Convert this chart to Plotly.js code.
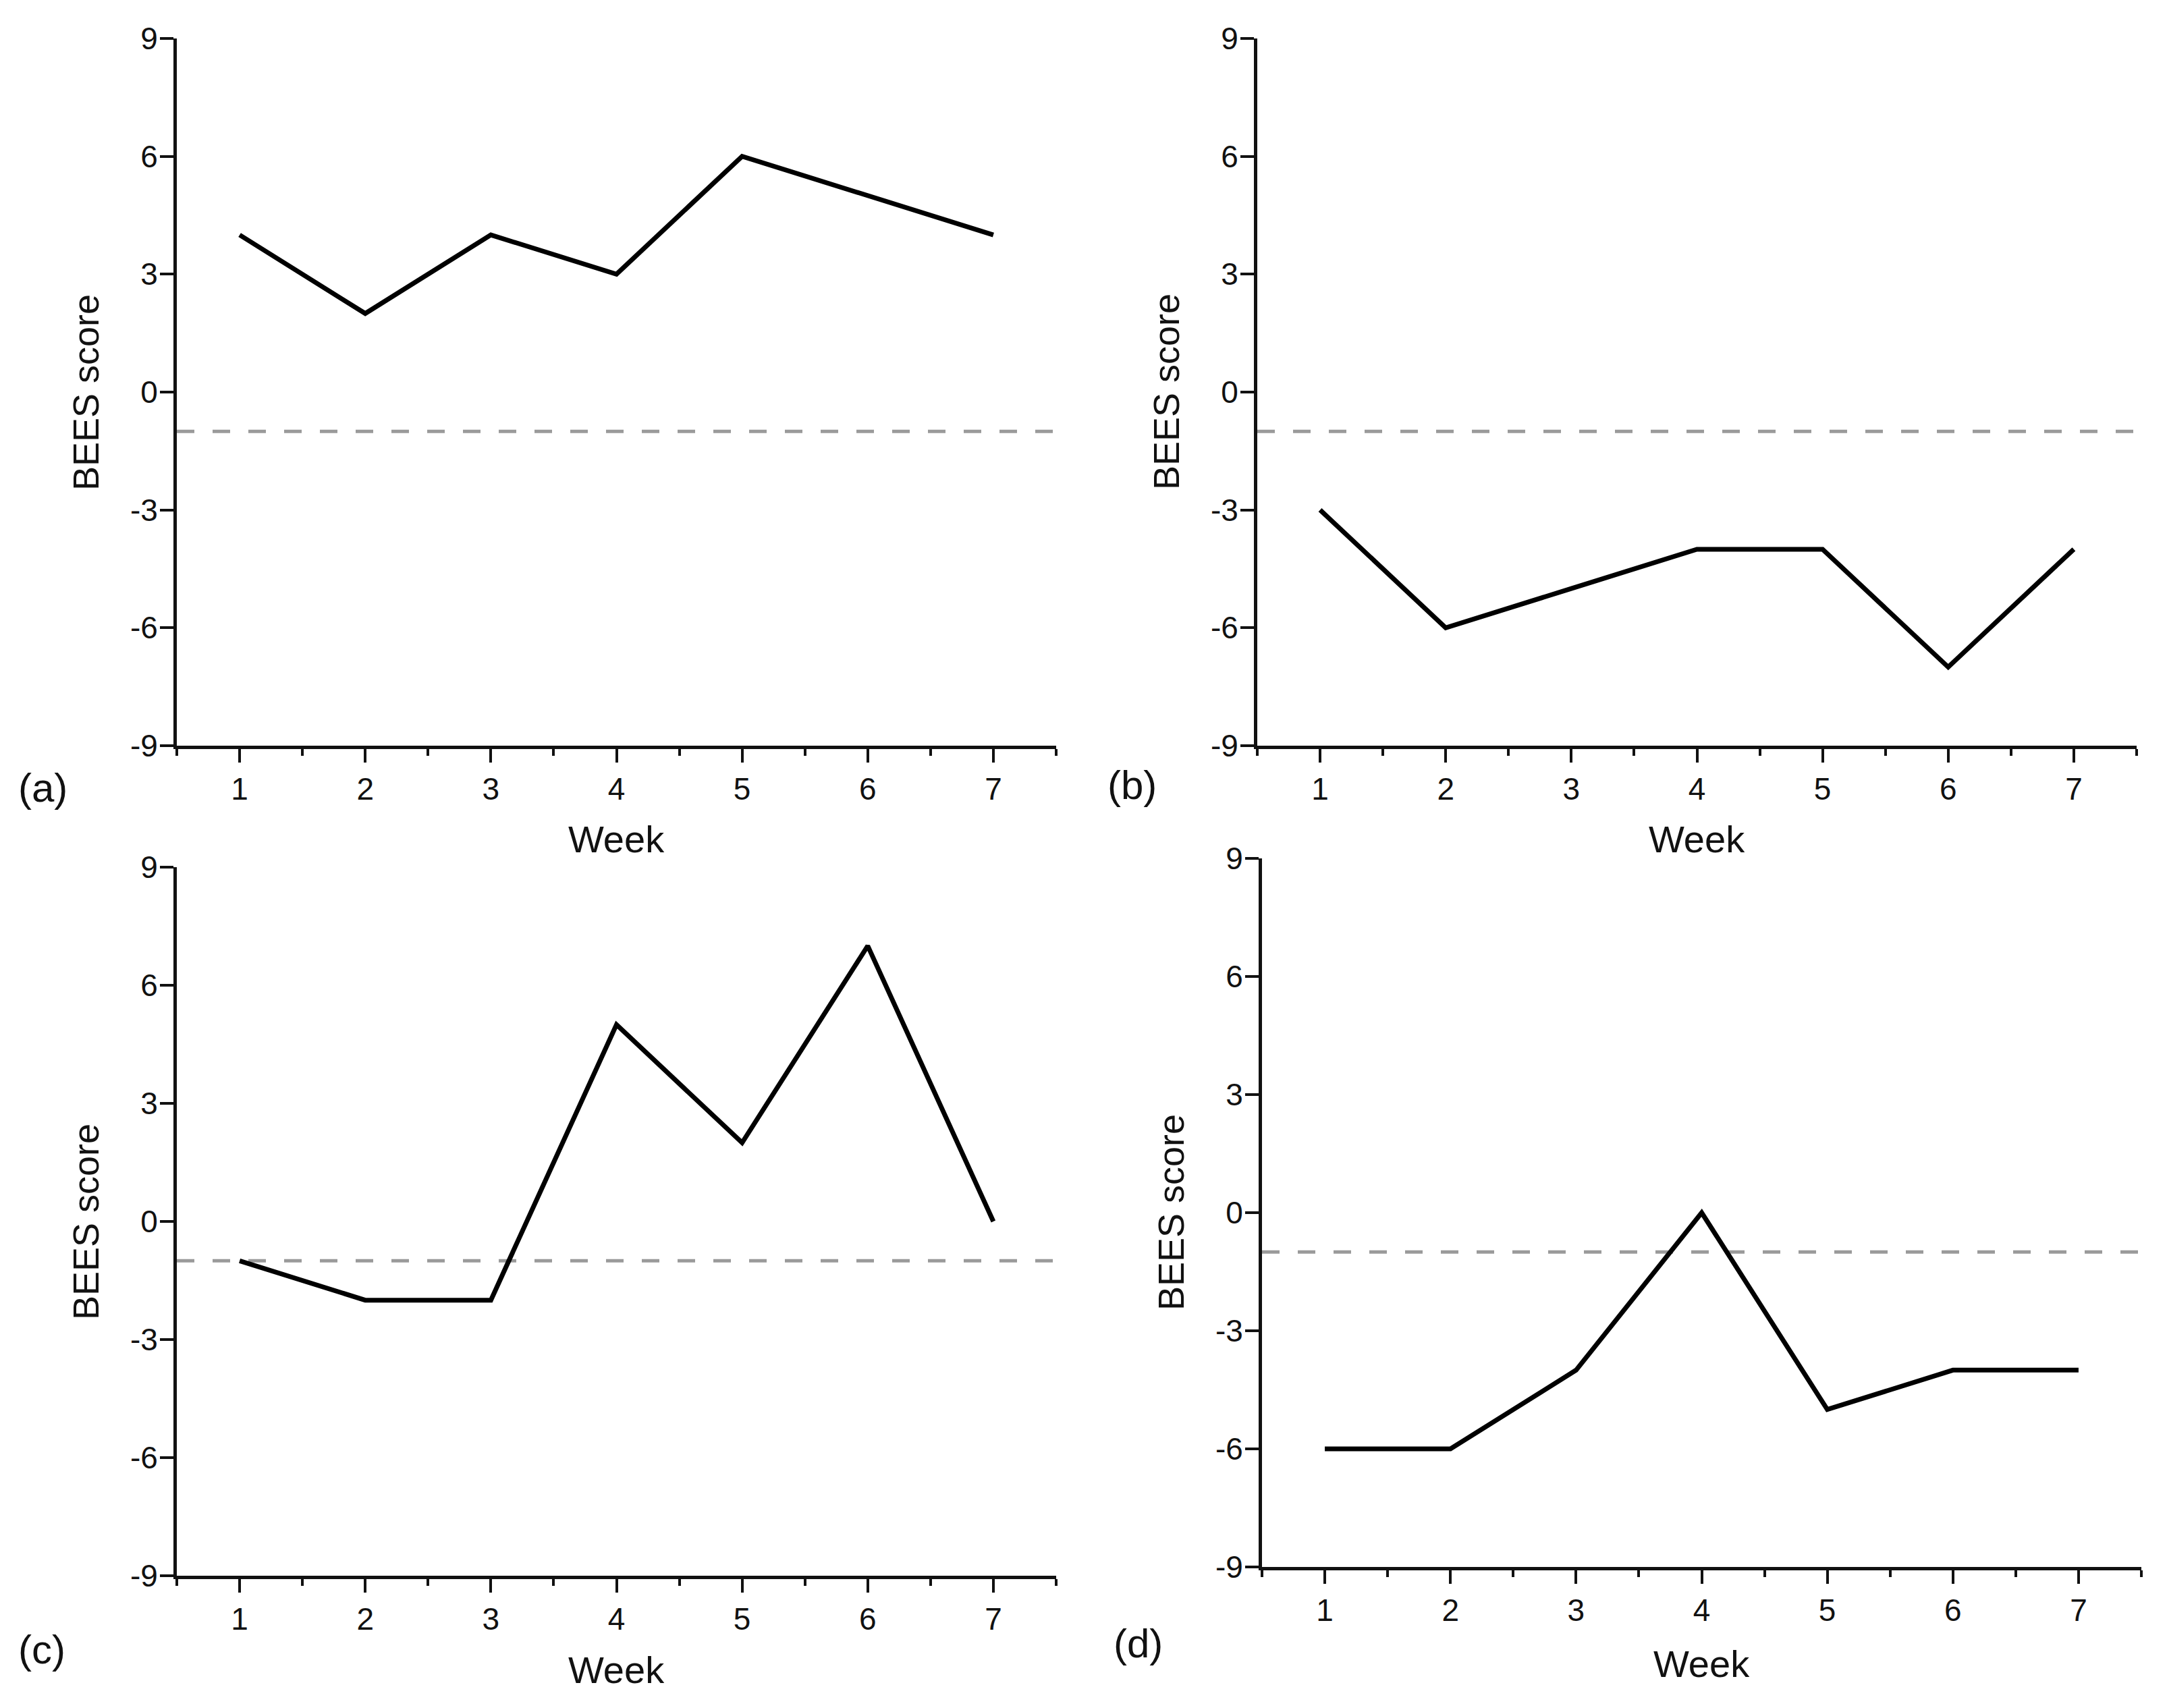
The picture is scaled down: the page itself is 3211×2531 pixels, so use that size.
<!DOCTYPE html>
<html>
<head>
<meta charset="utf-8">
<script src="https://cdn.plot.ly/plotly-3.0.1.min.js"></script>
<style>
  html, body { margin: 0; padding: 0; background: #ffffff; }
  #chart { width: 3211px; height: 2531px; }
</style>
</head>
<body>
<div id="chart"></div>
<script>
// BEES score per week, four participants (a)-(d)
const weeks = [1, 2, 3, 4, 5, 6, 7];
const scoresA = [4, 2, 4, 3, 6, 5, 4];
const scoresB = [-3, -6, -5, -4, -4, -7, -4];
const scoresC = [-1, -2, -2, 5, 2, 7, 0];
const scoresD = [-6, -6, -4, 0, -5, -4, -4];
const panelLabels = ['(a)', '(b)', '(c)', '(d)'];
const cutoff = -1;          // dashed reference line
const weekRange = [0.5, 7.5];
const yTicks = [-9, -6, -3, 0, 3, 6, 9];

const W = 3211, H = 2531;
const FONT = 'Liberation Sans, Arial, sans-serif';

// panel boxes in pixels: left, right, top, bottom
const boxes = [
    { l: 262, r: 1565, t: 57, b: 1105, lab: [63, 1167], wk: 1244 },
    { l: 1863, r: 3166, t: 57, b: 1105, lab: [1677, 1163], wk: 1244 },
    { l: 262, r: 1565, t: 1285, b: 2335, lab: [62, 2444], wk: 2474 },
    { l: 1870, r: 3173, t: 1272, b: 2322, lab: [1686, 2435], wk: 2465 }
];
const series = [scoresA, scoresB, scoresC, scoresD];

const px = x => x / W;
const py = y => 1 - y / H;

const data = [];
const layout = {
    width: W,
    height: H,
    margin: { l: 0, r: 0, t: 0, b: 0 },
    paper_bgcolor: '#ffffff',
    plot_bgcolor: '#ffffff',
    showlegend: false,
    font: { family: FONT, color: '#111111', size: 46 },
    annotations: []
};

boxes.forEach((box, i) => {
    const n = i === 0 ? '' : String(i + 1);

    // threshold line
    data.push({
        x: weekRange,
        y: [cutoff, cutoff],
        xaxis: 'x' + n,
        yaxis: 'y' + n,
        mode: 'lines',
        line: { color: '#9a9a9a', width: 5, dash: '26px,27px' },
        hoverinfo: 'skip'
    });

    // score line
    data.push({
        x: weeks,
        y: series[i],
        xaxis: 'x' + n,
        yaxis: 'y' + n,
        mode: 'lines',
        line: { color: '#000000', width: 7 }
    });

    layout['xaxis' + n] = {
        domain: [px(box.l), px(box.r)],
        anchor: 'y' + n,
        range: weekRange,
        tickmode: 'array',
        tickvals: weeks,
        ticktext: weeks.map(String),
        showgrid: false,
        zeroline: false,
        showline: true,
        linecolor: '#111111',
        linewidth: 5,
        ticks: 'outside',
        ticklen: 20,
        tickwidth: 4,
        tickcolor: '#111111',
        tickfont: { family: FONT, size: 46, color: '#111111' },
        minor: {
            tickmode: 'linear',
            tick0: 0.5,
            dtick: 1,
            ticks: 'outside',
            ticklen: 10,
            tickwidth: 4,
            tickcolor: '#111111',
            showgrid: false
        },
        fixedrange: true
    };

    layout['yaxis' + n] = {
        domain: [py(box.b), py(box.t)],
        anchor: 'x' + n,
        range: [-9, 9],
        tickmode: 'array',
        tickvals: yTicks,
        ticktext: yTicks.map(String),
        ticklabelstandoff: -6,
        showgrid: false,
        zeroline: false,
        showline: true,
        linecolor: '#111111',
        linewidth: 5,
        ticks: 'outside',
        ticklen: 20,
        tickwidth: 4,
        tickcolor: '#111111',
        tickfont: { family: FONT, size: 46, color: '#111111' },
        fixedrange: true
    };

    // axis titles and panel letter
    layout.annotations.push({
        text: 'Week',
        xref: 'paper', yref: 'paper',
        x: px((box.l + box.r) / 2), y: py(box.wk),
        xanchor: 'center', yanchor: 'middle',
        showarrow: false,
        font: { family: FONT, size: 56, color: '#111111' }
    });
    layout.annotations.push({
        text: 'BEES score',
        xref: 'paper', yref: 'paper',
        x: px(box.l - 135), y: py((box.t + box.b) / 2),
        xanchor: 'center', yanchor: 'middle',
        textangle: -90,
        showarrow: false,
        font: { family: FONT, size: 54, color: '#111111' }
    });
    layout.annotations.push({
        text: panelLabels[i],
        xref: 'paper', yref: 'paper',
        x: px(box.lab[0]), y: py(box.lab[1]),
        xanchor: 'center', yanchor: 'middle',
        showarrow: false,
        font: { family: FONT, size: 60, color: '#111111' }
    });
});

Plotly.newPlot('chart', data, layout, { displayModeBar: false, staticPlot: true });
</script>
</body>
</html>
